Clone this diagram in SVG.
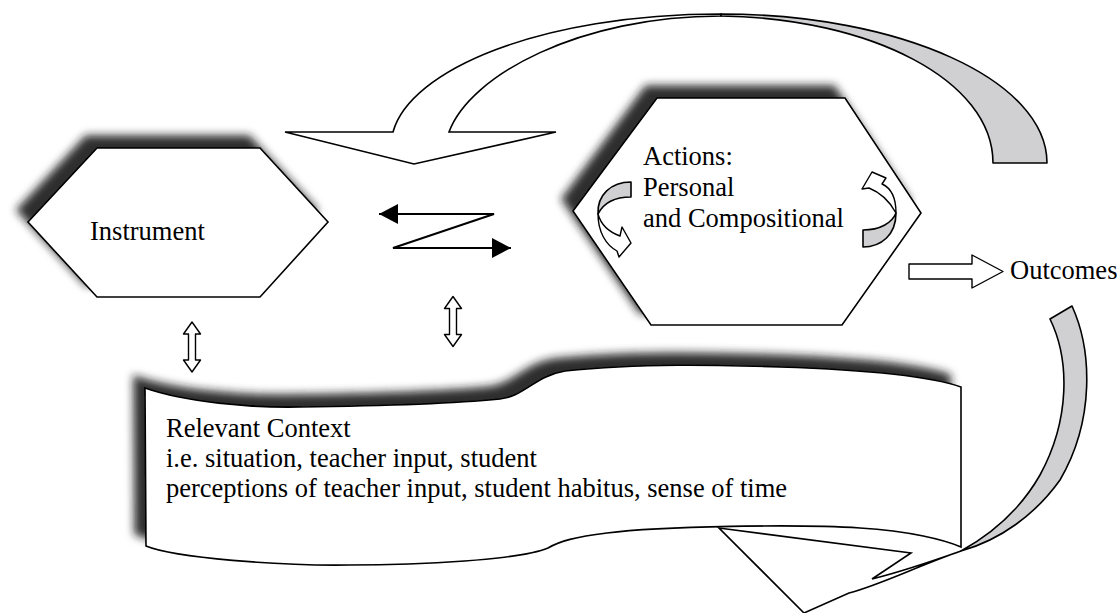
<svg xmlns="http://www.w3.org/2000/svg" xmlns:xlink="http://www.w3.org/1999/xlink" width="1117" height="613" viewBox="0 0 1117 613">
  <style>
    .shape { fill: #ffffff; stroke: #000000; stroke-width: 1.6; stroke-linejoin: miter; }
    .band  { fill: #d0d0d2; stroke: #000000; stroke-width: 1.6; stroke-linejoin: round; }
    .open  { fill: #ffffff; stroke: #000000; stroke-width: 1.4; stroke-linejoin: round; }
    .line  { fill: none; stroke: #000000; stroke-width: 2; }
    .label { font-family: "Liberation Serif", "Times New Roman", serif; font-size: 26.5px; fill: #000000; }
  </style>
  <defs>
    <filter id="shadow" x="-20%" y="-25%" width="140%" height="150%">
      <feGaussianBlur in="SourceAlpha" stdDeviation="4" result="blur"/>
      <feOffset in="blur" dx="-11" dy="-12" result="off"/>
      <feFlood flood-color="#1a1a1a" flood-opacity="0.9"/>
      <feComposite in2="off" operator="in" result="sh"/>
      <feMerge>
        <feMergeNode in="sh"/>
        <feMergeNode in="SourceGraphic"/>
      </feMerge>
    </filter>
    <marker id="head" markerUnits="userSpaceOnUse" markerWidth="20" markerHeight="20" refX="19" refY="10" orient="auto-start-reverse">
      <path d="M0,0 L19,10 L0,20 Z" fill="#000000"/>
    </marker>
    <path id="updown" d="M0,-25 L8.5,-13 L3.5,-13 L3.5,13 L8.5,13 L0,25 L-8.5,13 L-3.5,13 L-3.5,-13 L-8.5,-13 Z"/>
  </defs>

  <rect width="1117" height="613" fill="#ffffff"/>

  <!-- Instrument -->
  <g id="instrument">
    <polygon class="shape" filter="url(#shadow)" points="97,148 260,148 328,222 260,297 97,297 28,222"/>
    <text class="label" x="90" y="240">Instrument</text>
  </g>

  <!-- Actions -->
  <g id="actions">
    <polygon class="shape" filter="url(#shadow)" points="657,98 845,98 921,213 842,325 651,325 573,211"/>
    <text class="label" x="643" y="165">Actions:</text>
    <text class="label" x="643" y="195.5">Personal</text>
    <text class="label" x="643" y="226.5">and Compositional</text>
  </g>

  <!-- Relevant context banner -->
  <g id="context">
    <path class="shape" filter="url(#shadow)" d="M145,388 C185,402 250,408 300,407 C380,406 450,404 500,399 C525,396 535,376 565,371 C640,363 720,365 780,367 C870,370 930,376 961,387 L961,547 C945,540 910,531 860,528 C800,524 660,526 607,533 C575,537 560,541 548,548 C520,560 420,565 349,565 C280,566 175,558 146,546 Z"/>
    <text class="label" x="166" y="437">Relevant Context</text>
    <text class="label" x="166" y="467">i.e. situation, teacher input, student</text>
    <text class="label" x="166" y="497">perceptions of teacher input, student habitus, sense of time</text>
  </g>

  <!-- Outcomes -->
  <g id="outcomes">
    <text class="label" x="1010" y="279">Outcomes</text>
  </g>

  <g id="connectors">
    <!-- feedback loop over the top, ending in a downward head -->
    <path class="shape" d="M393,132 C410,70 540,14 721,14 L721,16 C580,16 470,75 449,132 L556,132 L414,164 L285,132 Z"/>
    <path class="band" d="M721,14 C900,14 1047,80 1047,163 L993,163 C993,80 870,18 721,16 Z"/>

    <!-- two-way exchange between instrument and actions -->
    <polyline class="line" points="379,214 494,214 393,248 511,248" marker-start="url(#head)" marker-end="url(#head)"/>

    <!-- links down to the context -->
    <use xlink:href="#updown" class="open" transform="translate(192,347)"/>
    <use xlink:href="#updown" class="open" transform="translate(453,321.5)"/>

    <!-- cycling arrows inside actions -->
    <path class="band" d="M631,182 L631,197 C614,197 603,204 598,214 C597,195 611,182 631,182 Z"/>
    <path class="open" d="M598,214 C598,232 606,245 617,251 L619,257 L631,243 L622,227 L620,236 C609,232 601,225 598,214 Z"/>
    <path class="band" d="M863,230 L863,247 C881,247 896,235 896,213 C892,223 880,230 863,230 Z"/>
    <path class="open" d="M896,213 C896,198 891,188 882,184 L886,178 L872,172 L862,189 L869,188 C879,192 889,200 896,213 Z"/>

    <!-- to outcomes -->
    <polygon class="open" points="909,264 972,264 972,255 1003,271.5 972,288 972,279 909,279"/>

    <!-- return loop from outcomes back under the context -->
    <path class="band" d="M1072,306 C1092,350 1095,420 1060,480 C1035,515 1000,540 961,551 C990,535 1020,510 1040,475 C1070,420 1070,360 1050,319 Z"/>
    <path class="shape" d="M961,551 C920,565 880,585 849,593 L804,613 L719,528 L911,553 L872,579 C900,572 930,562 961,551 Z"/>
  </g>
</svg>
